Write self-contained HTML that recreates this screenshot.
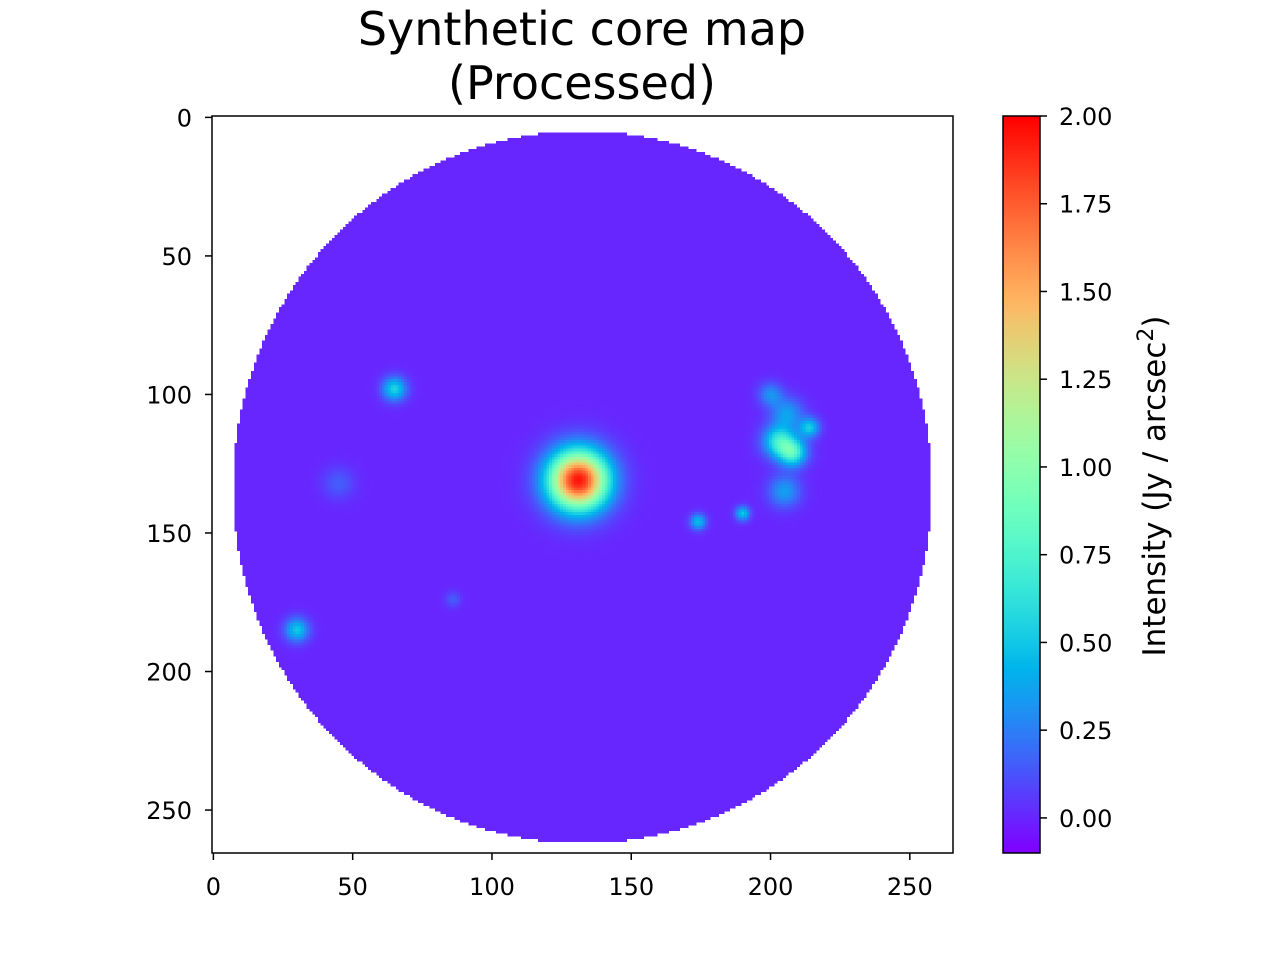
<!DOCTYPE html>
<html><head><meta charset="utf-8"><style>
body{margin:0;background:#fff;width:1280px;height:960px;overflow:hidden;font-family:"DejaVu Sans","Liberation Sans",sans-serif}
#wrap{position:relative;width:1280px;height:960px}
canvas{position:absolute;image-rendering:pixelated}
</style></head><body>
<div id="wrap">
<canvas id="heat" style="left:212px;top:116px;width:741px;height:737px" width="266" height="266"></canvas>
<canvas id="cbar" style="left:1003px;top:116px;width:37px;height:737px" width="1" height="256"></canvas>
<svg id="ov" width="1280" height="960" style="position:absolute;left:0;top:0"></svg>
</div>
<script>
// data
const gridSize = 266;
const vmin = -0.1, vmax = 2.0;
const background = 0.0;
const discCenterX = 132.5, discCenterY = 133.5, discRadiusX = 125.5, discRadiusY = 128.5;
const srcX   = [131, 65, 203, 208, 214, 200, 206, 205, 174, 190, 30, 45, 86, 120];
const srcY   = [131, 98, 117, 121, 112, 100, 107, 135, 146, 143, 185, 132, 174, 110];
const srcAmp = [1.95, 0.55, 0.65, 0.7, 0.5, 0.3, 0.35, 0.35, 0.45, 0.5, 0.5, 0.15, 0.15, 0.0];
const srcSig = [7.5, 3, 4, 3.5, 2.5, 3, 4, 4, 2, 1.8, 3, 4, 2, 1];
const xTicks = [0, 50, 100, 150, 200, 250];
const yTicks = [0, 50, 100, 150, 200, 250];
const cbTicks = [0, 0.25, 0.5, 0.75, 1.0, 1.25, 1.5, 1.75, 2.0];

function rainbow(t){t=Math.max(0,Math.min(1,t));
 const r=Math.min(1,Math.abs(2*t-0.5));
 return [r*255, Math.sin(Math.PI*t)*255, Math.cos(Math.PI*t/2)*255];}
const norm = v => (v - vmin) / (vmax - vmin);
const X0=212, X1=953, Y0=116, Y1=853;
const xs = v => X0 + (v+0.5)/gridSize*(X1-X0);
const ys = v => Y0 + (v+0.5)/gridSize*(Y1-Y0);
const cs = v => Y1 - norm(v)*(Y1-Y0);

const hc = document.getElementById('heat').getContext('2d');
const img = hc.createImageData(gridSize, gridSize);
for(let j=0;j<gridSize;j++)for(let i=0;i<gridSize;i++){
 const k=(j*gridSize+i)*4;
 const dx=(i-discCenterX)/discRadiusX, dy=(j-discCenterY)/discRadiusY;
 if(dx*dx+dy*dy>1){img.data[k+3]=0;continue;}
 let v=background;
 for(let s=0;s<srcX.length;s++){const ex=i-srcX[s], ey=j-srcY[s];
  v+=srcAmp[s]*Math.exp(-(ex*ex+ey*ey)/(2*srcSig[s]*srcSig[s]));}
 const c=rainbow(norm(v));
 img.data[k]=c[0];img.data[k+1]=c[1];img.data[k+2]=c[2];img.data[k+3]=255;}
hc.putImageData(img,0,0);

const cc=document.getElementById('cbar').getContext('2d');
const cimg=cc.createImageData(1,256);
for(let j=0;j<256;j++){const c=rainbow(1-j/255);cimg.data[j*4]=c[0];cimg.data[j*4+1]=c[1];cimg.data[j*4+2]=c[2];cimg.data[j*4+3]=255;}
cc.putImageData(cimg,0,0);

const svg=document.getElementById('ov');const NS='http://www.w3.org/2000/svg';
function mk(tag,attrs,text){const e=document.createElementNS(NS,tag);for(const a in attrs)e.setAttribute(a,attrs[a]);if(text!==undefined)e.textContent=text;svg.appendChild(e);return e;}
let e;
e=mk('rect',{x:X0,y:Y0,width:X1-X0,height:Y1-Y0,fill:'none',stroke:'#000','stroke-width':1.5});


e=mk('rect',{x:1003,y:Y0,width:37,height:Y1-Y0,fill:'none',stroke:'#000','stroke-width':1.5});


xTicks.forEach(t=>{const x=xs(t);
 mk('line',{x1:x,x2:x,y1:Y1,y2:Y1+7,stroke:'#000','stroke-width':1.5});
 e=mk('text',{x:x,y:Y1+42,'text-anchor':'middle','font-size':24},String(t));
 
 });
yTicks.forEach(t=>{const y=ys(t);
 mk('line',{x1:X0-7,x2:X0,y1:y,y2:y,stroke:'#000','stroke-width':1.5});
 e=mk('text',{x:X0-20,y:y+9,'text-anchor':'end','font-size':24},String(t));
 
 });
cbTicks.forEach(t=>{const y=cs(t);
 mk('line',{x1:1040,x2:1047,y1:y,y2:y,stroke:'#000','stroke-width':1.5});
 e=mk('text',{x:1059,y:y+9,'font-size':24},t.toFixed(2));
 
 });
e=mk('text',{x:582,y:45,'text-anchor':'middle','font-size':46},'Synthetic core map');


e=mk('text',{x:582,y:99,'text-anchor':'middle','font-size':46},'(Processed)');


e=mk('text',{transform:'translate(1165,486) rotate(-90)','text-anchor':'middle','font-size':31},'');


e.innerHTML='Intensity (Jy / arcsec<tspan dy="-12" font-size="22">2</tspan><tspan dy="12">)</tspan>';
</script>
</body></html>
